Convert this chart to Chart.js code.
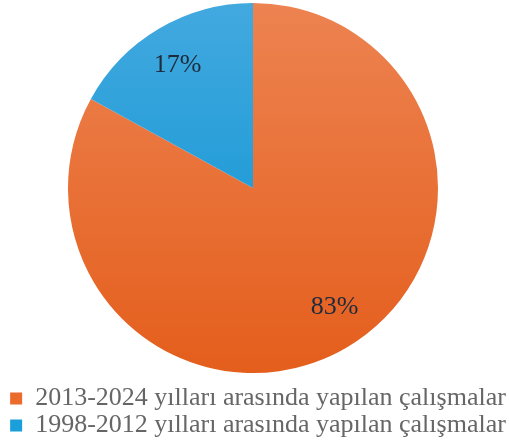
<!DOCTYPE html>
<html>
<head>
<meta charset="utf-8">
<script src="https://cdn.jsdelivr.net/npm/chart.js@4.4.1/dist/chart.umd.min.js"></script>
<style>
  html, body { margin: 0; padding: 0; background: #fff; }
  #wrap { width: 509px; height: 441px; }
</style>
</head>
<body>
<div id="wrap"><canvas id="pieChart" width="509" height="441"></canvas></div>
<script>
const categories = ['2013-2024 yılları arasında yapılan çalışmalar', '1998-2012 yılları arasında yapılan çalışmalar'];
const values = [83, 17];
const pctLabels = ['83%', '17%'];

// top / bottom colours of each slice gradient, plus flat legend colour
const gradTop = ['#ed8351', '#42a9df'];
const gradBottom = ['#e45e1c', '#0791d0'];
const legendColors = ['#ea6b2c', '#1a9fdb'];

const serif = '"Liberation Serif", "Times New Roman", serif';

function sliceFill(ctx) {
    const chart = ctx.chart;
    const area = chart.chartArea;
    if (!area) return legendColors[ctx.dataIndex];
    const g = chart.ctx.createLinearGradient(0, area.top, 0, area.bottom);
    g.addColorStop(0, gradTop[ctx.dataIndex]);
    g.addColorStop(1, gradBottom[ctx.dataIndex]);
    return g;
}

// percent labels inside slices (small nudge like excel's best fit)
const labelNudge = [[9, -3], [-3, 0]];
const sliceLabels = {
    id: 'sliceLabels',
    afterDatasetsDraw(chart) {
        const c = chart.ctx;
        const meta = chart.getDatasetMeta(0);
        c.save();
        c.font = '26px ' + serif;
        c.fillStyle = '#1e2b3c';
        c.textAlign = 'center';
        c.textBaseline = 'middle';
        meta.data.forEach((arc, i) => {
            const p = arc.getProps(['x', 'y', 'startAngle', 'endAngle', 'outerRadius'], true);
            const mid = (p.startAngle + p.endAngle) / 2;
            const r = p.outerRadius * 0.77;
            c.fillText(pctLabels[i], p.x + Math.cos(mid) * r + labelNudge[i][0], p.y + Math.sin(mid) * r + labelNudge[i][1]);
        });
        c.restore();
    }
};

// legend rows sit a bit right of the pie centre in the original
const legendShift = {
    id: 'legendShift',
    afterLayout(chart) {
        chart.legend.left += 5;
        chart.legend.right += 5;
    }
};

new Chart(document.getElementById('pieChart'), {
    type: 'pie',
    data: {
        labels: categories,
        datasets: [{
            data: values,
            backgroundColor: sliceFill,
            borderWidth: 0
        }]
    },
    options: {
        responsive: false,
        animation: false,
        layout: { padding: { top: 3, bottom: -7.5, right: 3 } },
        plugins: {
            tooltip: { enabled: false },
            legend: {
                position: 'bottom',
                title: { display: true, text: ' ', font: { size: 10, lineHeight: 1 }, padding: { top: 0, bottom: 1.5 } },
                labels: {
                    boxWidth: 12,
                    boxHeight: 12,
                    padding: 1,
                    color: '#141414',
                    font: { family: serif, size: 26 },
                    generateLabels(chart) {
                        return categories.map((t, i) => ({
                            text: t,
                            fillStyle: legendColors[i],
                            strokeStyle: legendColors[i],
                            lineWidth: 0,
                            index: i
                        }));
                    }
                }
            }
        }
    },
    plugins: [sliceLabels, legendShift]
});
</script>
</body>
</html>
